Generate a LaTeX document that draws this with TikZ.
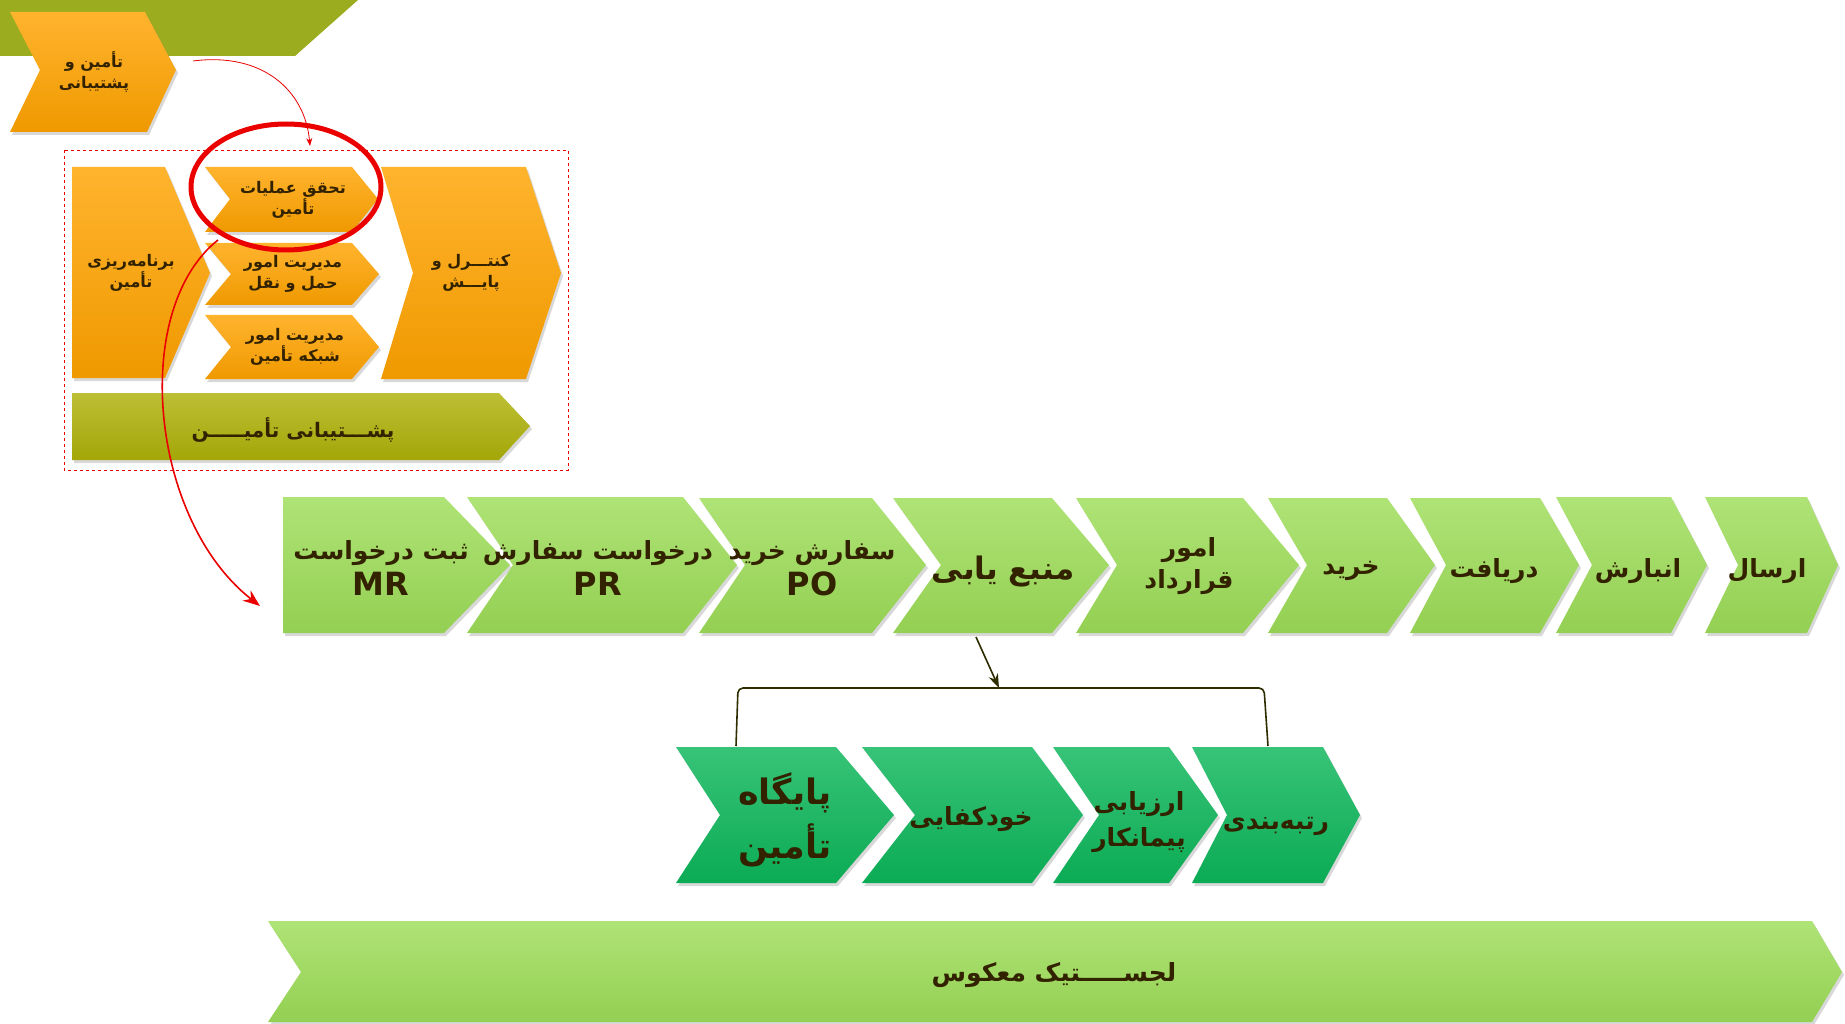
\documentclass[tikz,border=0pt]{standalone}
\usepackage{fontspec}
\setmainfont{DejaVu Sans}
\newfontfamily\arfont[Script=Arabic]{DejaVu Sans}
\TeXXeTstate=1
\usetikzlibrary{shadows,arrows.meta}
\definecolor{orng}{RGB}{255,163,0}
\definecolor{olvban}{RGB}{155,172,30}
\definecolor{olvarr}{RGB}{174,177,8}
\definecolor{lgr}{RGB}{157,221,88}
\definecolor{dgr}{RGB}{12,182,90}
\definecolor{txt}{RGB}{50,34,0}
\definecolor{rd}{RGB}{235,0,0}
\definecolor{brk}{RGB}{45,45,0}
\newcommand\fa[1]{{\arfont\bfseries\beginR #1\endR}}
\newcommand\la[1]{{\fontsize{32}{36}\selectfont\bfseries #1}}
\begin{document}
\begin{tikzpicture}[x=1pt,y=-1pt,
  shp/.style={drop shadow={shadow xshift=2pt,shadow yshift=-3pt,opacity=0.3}},
  bev/.style={shp,top color=#1!82!white,middle color=#1,bottom color=#1!94!black},
  org/.style={bev=orng},
  olv/.style={bev=olvarr},
  lgs/.style={bev=lgr},
  dgs/.style={bev=dgr},
  lbl/.style={text=txt,align=center,inner sep=0pt},
  sm/.style={lbl,font=\fontsize{16}{21}\selectfont},
  md/.style={lbl,font=\fontsize{25}{36}\selectfont},
  lg/.style={lbl,font=\fontsize{35}{54}\selectfont},
  redarrow/.style={draw=rd},
]
\fill[white] (0,0) rectangle (1845,1024);
\useasboundingbox (0,0) rectangle (1845,1024);

% top banner
\fill[olvban] (0,0) -- (358,0) -- (295,56) -- (0,56) -- cycle;
% top-left chevron
\path[org] (10,12) -- (145,12) -- (176,70) -- (147,132) -- (10,132) -- (40,70) -- cycle;
\node[sm] (tp) at (94,72) {\fa{تأمین و}\\\fa{پشتیبانی}};

% dashed frame
\draw[rd,dashed,line width=0.8pt] (64,150) rectangle (568,470);

% inner shapes
\path[org] (72,167) -- (165,167) -- (210,273) -- (165,378) -- (72,378) -- cycle;
\node[sm] (plan) at (131,273) {\fa{برنامه‌ریزی}\\\fa{تأمین}};
\path[org] (205,167) -- (352,167) -- (378,199) -- (352,232) -- (205,232) -- (230,199) -- cycle;
\node[sm] (ops) at (293,200) {\fa{تحقق عملیات}\\\fa{تأمین}};
\path[org] (205,243) -- (352,243) -- (379,274) -- (352,305) -- (205,305) -- (231,274) -- cycle;
\node[sm] (trans) at (293,274) {\fa{مدیریت امور}\\\fa{حمل و نقل}};
\path[org] (205,315) -- (352,315) -- (379,347) -- (352,379) -- (205,379) -- (231,347) -- cycle;
\node[sm] (net) at (295,347) {\fa{مدیریت امور}\\\fa{شبکه تأمین}};
\path[org] (381,167) -- (526,167) -- (561,273) -- (526,379) -- (381,379) -- (413,273) -- cycle;
\node[sm] (ctrl) at (471,273) {\fa{کنتـــرل و}\\\fa{پایـــش}};
\path[olv] (72,393) -- (499,393) -- (530,426) -- (499,460) -- (72,460) -- cycle;
\node[lbl,font=\fontsize{20}{24}\selectfont] (sup) at (293,430) {\fa{پشـــتیبانی تأمیـــــن}};

% ellipse highlight
\draw[rd,line width=5pt] (286,187) ellipse [x radius=95,y radius=63];
\coordinate (e1) at (218,240);
\coordinate (a0) at (193,61);
\coordinate (a1) at (310,146);
\draw[rd,line width=0.8pt,-{Stealth[length=8pt,width=6pt]}] (a0) .. controls (262,52) and (305,90) .. (a1);

% green row
\path[lgs] (283,497) -- (444,497) -- (510,565) -- (444,633) -- (283,633) -- cycle;
\node[md] (mr) at (381,568) {\fa{ثبت درخواست}\\\la{MR}};
\path[lgs] (467,497) -- (683,497) -- (737,565) -- (683,633) -- (467,633) -- (513,565) -- cycle;
\node[md] (pr) at (598,568) {\fa{درخواست سفارش}\\\la{PR}};
\path[lgs] (699,498) -- (872,498) -- (926,565) -- (872,633) -- (699,633) -- (745,565) -- cycle;
\node[md] (po) at (812,568) {\fa{سفارش خرید}\\\la{PO}};
\path[lgs] (893,498) -- (1052,498) -- (1109,565) -- (1052,633) -- (893,633) -- (941,565) -- cycle;
\node[lbl,font=\fontsize{31}{36}\selectfont] (src) at (1003,572) {\fa{منبع یابی}};
\path[lgs] (1076,498) -- (1243,498) -- (1299,565) -- (1243,633) -- (1076,633) -- (1117,565) -- cycle;
\node[lbl,font=\fontsize{25}{32}\selectfont] (cont) at (1189,566) {\fa{امور}\\\fa{قرارداد}};
\path[lgs] (1268,498) -- (1387,498) -- (1435,565) -- (1387,633) -- (1268,633) -- (1307,565) -- cycle;
\node[md] (buy) at (1351,571) {\fa{خرید}};
\path[lgs] (1410,498) -- (1540,498) -- (1579,565) -- (1540,633) -- (1410,633) -- (1446,565) -- cycle;
\node[md] (rec) at (1494,571) {\fa{دریافت}};
\path[lgs] (1556,497) -- (1671,497) -- (1707,565) -- (1671,633) -- (1556,633) -- (1592,565) -- cycle;
\node[md] (stor) at (1638,571) {\fa{انبارش}};
\path[lgs] (1705,497) -- (1807,497) -- (1838,565) -- (1807,633) -- (1705,633) -- (1738,565) -- cycle;
\node[md] (send) at (1767,571) {\fa{ارسال}};

% red curve to the row
\coordinate (e2) at (260,606);
\draw[rd,line width=1.6pt,-{Stealth[length=17pt,width=13pt]}] (e1) .. controls (130,310) and (150,520) .. (e2);

% bracket
\coordinate (b0) at (999,688);
\draw[brk,line width=1.6pt,-{Stealth[length=14pt,width=10pt]}] (976,637) -- (b0);
\draw[brk,line width=1.6pt,rounded corners=5pt] (736,746) -- (738,688) -- (1264,688) -- (1268,746);

% dark green row
\path[dgs] (676,747) -- (836,747) -- (894,815) -- (836,883) -- (676,883) -- (720,815) -- cycle;
\node[lg] (base) at (785,820) {\fa{پایگاه}\\\fa{تأمین}};
\path[dgs] (862,747) -- (1032,747) -- (1083,815) -- (1032,883) -- (862,883) -- (915,815) -- cycle;
\node[md] (self) at (971,819) {\fa{خودکفایی}};
\path[dgs] (1053,747) -- (1169,747) -- (1218,815) -- (1169,883) -- (1053,883) -- (1099,815) -- cycle;
\node[md] (eval) at (1139,822) {\fa{ارزیابی}\\\fa{پیمانکار}};
\path[dgs] (1192,747) -- (1323,747) -- (1360,815) -- (1323,883) -- (1192,883) -- (1227,815) -- cycle;
\node[md] (rank) at (1276,826) {\fa{رتبه‌بندی}};

% bottom arrow
\path[lgs] (268,921) -- (1812,921) -- (1842,972) -- (1812,1022) -- (268,1022) -- (301,972) -- cycle;
\node[lbl,font=\fontsize{25}{30}\selectfont] (rev) at (1054,975) {\fa{لجســـــتیک معکوس}};
\end{tikzpicture}
\end{document}
